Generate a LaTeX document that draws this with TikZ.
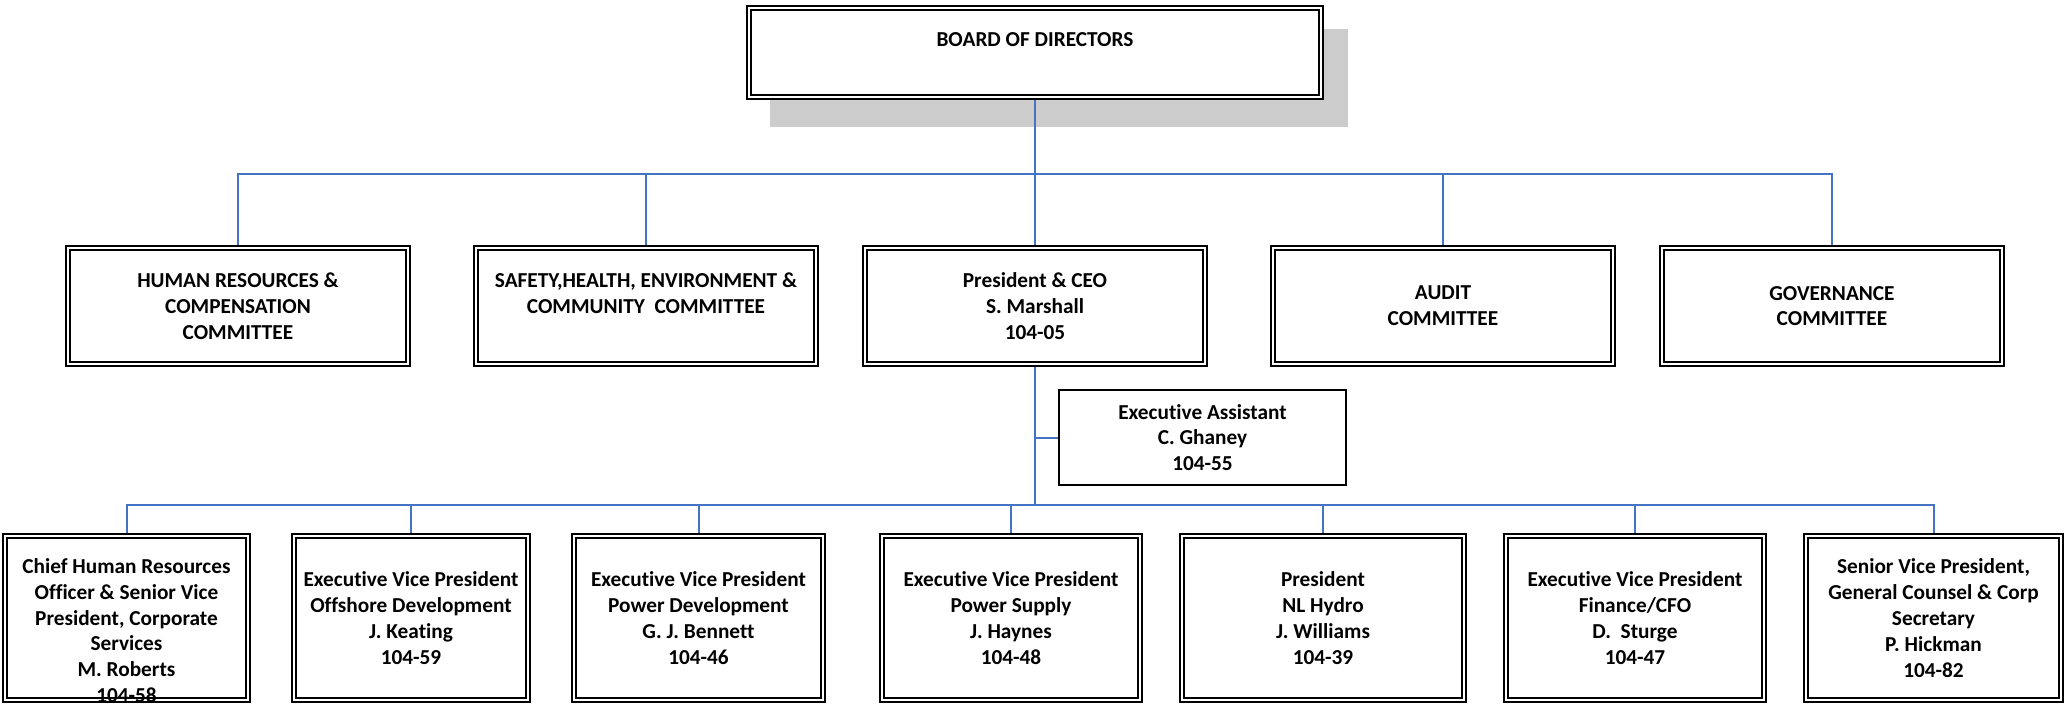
\documentclass[tikz,border=0pt]{standalone}
\usepackage{fontspec}
\setmainfont{Carlito}[Ligatures=NoCommon]
\usetikzlibrary{positioning,backgrounds}

\definecolor{linkblue}{RGB}{68,114,196}
\definecolor{shadowgray}{RGB}{204,204,204}

\begin{document}
\begin{tikzpicture}[x=1pt,y=-1pt,
                    every node/.style={font=\bfseries\fontsize{21.3}{25.8}\selectfont,align=center,inner sep=0pt,outer sep=0pt},
                    box/.style={draw,fill=white,line width=2pt,double,double distance=2pt},
                    committee/.style={box,minimum width=340pt,minimum height=116pt},
                    officer/.style={box,minimum height=164pt},
                    link/.style={draw=linkblue,line width=2pt,shorten >=3pt},
                    elbow/.style={to path={-| (\tikztotarget)}}]
  \useasboundingbox (0,0) rectangle (2065,704);

  % board
  \node[box,minimum width=572pt,minimum height=89pt] (board) at (1035,52.5) {BOARD OF DIRECTORS\\\mbox{}};
  \begin{scope}[on background layer]
    \fill[shadowgray] ([shift={(21,21)}]board.north west) rectangle ([shift={(27,30)}]board.south east);
  \end{scope}

  % committees
  \node[committee] (pres) [below=151pt of board] {President \& CEO\\S. Marshall\\104-05};
  \node[committee] (safety) [left=49pt of pres] {SAFETY,HEALTH, ENVIRONMENT \&\\COMMUNITY\ \ COMMITTEE\\\mbox{}};
  \node[committee] (hr) [left=68pt of safety] {HUMAN RESOURCES \&\\COMPENSATION\\COMMITTEE};
  \node[committee] (audit) [right=68pt of pres] {AUDIT\\COMMITTEE};
  \node[committee] (gov) [right=49pt of audit] {GOVERNANCE\\COMMITTEE};

  \node[draw,line width=2.4pt,minimum width=286.6pt,minimum height=94.6pt] (ea)
        [below right=26.2pt and 24.2pt of pres.south] {Executive Assistant\\C. Ghaney\\104-55};

  % officers
  \node[officer,minimum width=258pt] (supply) at (1011,618) {Executive Vice President\\Power Supply\\J. Haynes\\104-48};
  \node[officer,minimum width=249pt] (powerdev) [left=59pt of supply] {Executive Vice President\\Power Development\\G. J. Bennett\\104-46};
  \node[officer,minimum width=234pt] (offshore) [left=46pt of powerdev] {Executive Vice President\\Offshore Development\\J. Keating\\104-59};
  \node[officer,minimum width=243pt,text height=0pt,text depth=89pt] (chro) [left=46pt of offshore]
        {\begin{tabular}[t]{@{}c@{}}Chief Human Resources\\Officer \& Senior Vice\\President, Corporate\\Services\\M. Roberts\\104-58\end{tabular}};
  \node[officer,minimum width=282pt] (hydro) [right=42pt of supply] {President\\NL Hydro\\J. Williams\\104-39};
  \node[officer,minimum width=258pt] (finance) [right=42pt of hydro] {Executive Vice President\\Finance/CFO\\D.\ \ Sturge\\104-47};
  \node[officer,minimum width=255pt] (counsel) [right=42pt of finance] {Senior Vice President,\\General Counsel \& Corp\\Secretary\\P. Hickman\\104-82};

  \coordinate (topbus) at (1035,174);
  \coordinate (lowbus) at (1035,505);
  \coordinate (eajoint) at (pres.south |- ea.west);

  \path[link]
    (board) edge[shorten <=3pt] (pres)
    (topbus) edge[elbow] (hr)
             edge[elbow] (safety)
             edge[elbow] (audit)
             edge[elbow] (gov)
    (pres) edge[shorten <=3pt,shorten >=0pt] (lowbus)
    (eajoint) edge[shorten >=1pt] (ea)
    (lowbus) edge[elbow] (chro)
             edge[elbow] (offshore)
             edge[elbow] (powerdev)
             edge[elbow] (supply)
             edge[elbow] (hydro)
             edge[elbow] (finance)
             edge[elbow] (counsel);

\end{tikzpicture}
\end{document}
